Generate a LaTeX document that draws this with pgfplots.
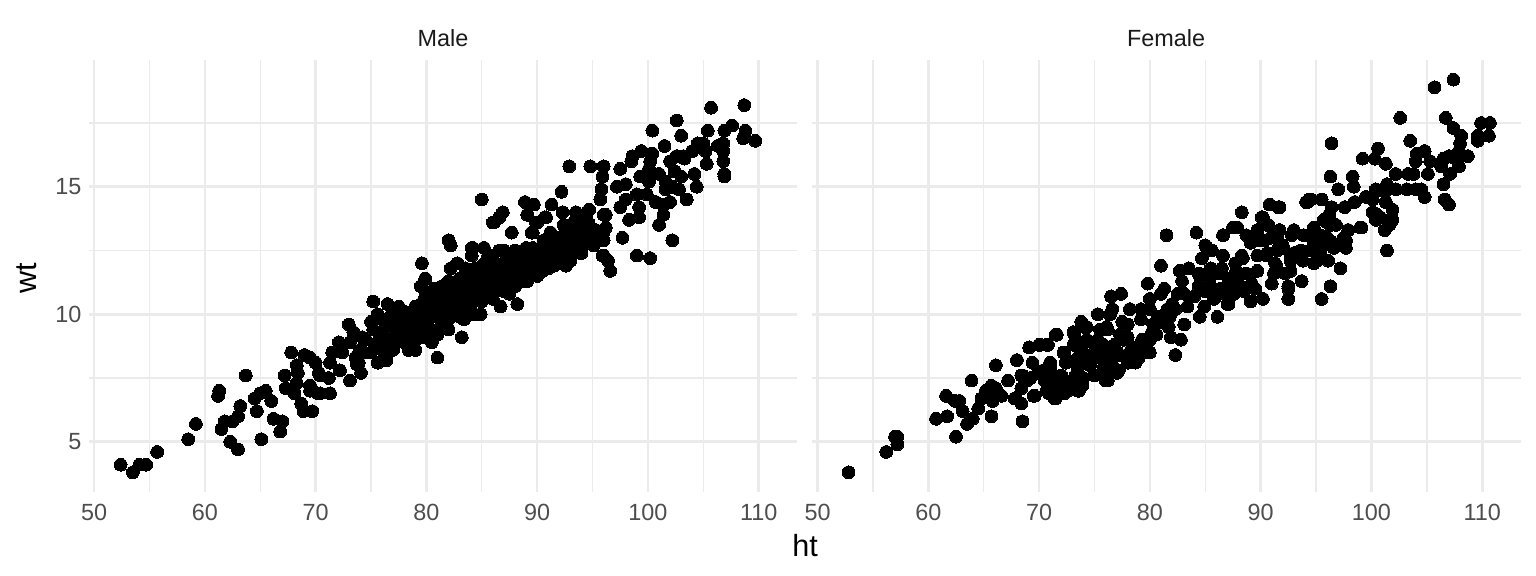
\documentclass[border=0pt]{standalone}
\usepackage{fontspec}
\setmainfont{Liberation Sans}
\usepackage{pgfplots}
\pgfplotsset{compat=1.18}
\definecolor{gridcol}{HTML}{EBEBEB}
\definecolor{ticktxt}{HTML}{4D4D4D}
\definecolor{striptxt}{HTML}{1A1A1A}
\pgfplotsset{panel/.style={
  scale only axis, width=354.5pt, height=216pt,
  anchor=south west,
  xmin=49.5, xmax=113.5, ymin=3.03, ymax=19.97,
  xtick={50,60,...,110}, minor xtick={55,65,...,105},
  ytick={5,10,15}, minor ytick={7.5,12.5,17.5},
  grid=both,
  major grid style={gridcol, line width=1.3pt},
  minor grid style={gridcol, line width=0.7pt},
  axis line style={draw=none},
  major tick length=0pt, minor tick length=0pt,
  /pgf/number format/assume math mode=true,
  tick label style={font=\fontsize{11.7}{12}\selectfont, text=ticktxt},
  xticklabel style={yshift=-2.5pt},
  clip=false,
}}
\pgfplotsset{dots/.style={only marks, mark=*, mark size=3.2pt, mark options={fill=black, draw=black, line width=0pt}}}
\begin{document}
\begin{tikzpicture}[x=1pt,y=1pt]
\useasboundingbox (0,0) rectangle (768,288);
\begin{axis}[panel, at={(44.25pt,42pt)}]
\addplot[dots] coordinates {
(52.4,4.1)(53.5,3.8)(54.1,4.1)(54.7,4.1)(55.7,4.6)(58.5,5.1)(59.2,5.7)(61.3,7.0)(61.2,6.8)(61.5,5.5)(61.8,5.8)(62.3,5.0)(63.0,4.7)(62.5,5.8)(63,6.0)(63.2,6.4)(63.7,7.6)(64.5,6.7)(65,6.9)(65.5,7.0)(64.7,6.2)(65.1,5.1)(66,6.6)(66.2,5.9)(67,5.8)(66.8,5.4)(67.8,8.5)(67.2,7.6)(67.3,7.1)(68.3,8.0)(68.4,7.7)(68.3,7.3)(68.1,6.9)(68.7,6.5)(68.9,6.2)(69.7,6.2)(69,8.4)(69.5,8.3)(70,8.1)(69.5,7.2)(69.5,7.0)(70.2,6.9)(70.3,7.7)
(71.3,8.1)(71.5,8.5)(72.1,8.9)(73,9.6)(73.4,9.3)(73.1,8.9)(72.4,8.5)(74.2,9.1)(75.2,10.5)(75.6,10.0)(75,9.7)(75.2,9.4)(76.5,10.4)(76.7,9.9)(77.5,10.3)(78,10.1)(79,10.3)
(70.4,7.6)(71.2,7.5)(72.2,7.8)(73.1,7.4)(74.1,7.7)(73.6,8.3)(74.3,8.5)(73.9,8.1)(75.6,8.1)(76.4,8.2)(76.9,8.6)(78.4,8.6)(79,8.6)(80.5,8.9)(81,8.3)(83.2,9.1)(82,9.4)(84.9,10)(84.3,10)(83.4,9.8)(86.7,10.3)(88.2,10.4)(87.5,10.8)(89.1,11.3)(88.5,11.3)
(82,12.9)(82.2,12.7)(79.6,12)(79.9,11.4)(79.5,11.1)(79.9,10.7)(80.7,11)(81.4,11.1)(82,11.3)(82.2,11.8)(82.8,12)(83.5,11.8)(84.1,12.6)(84.1,12.3)(85.2,12.6)(85.5,12.2)(84.4,11.8)(86.6,12.5)(87.7,13.2)(86.1,13.6)(89.5,13.2)
(105.7,18.1)(108.7,18.2)(102.6,17.6)(100.4,17.2)(103,17)(105.4,17.2)(106.9,17.2)(107.6,17.4)(108.8,17.2)(108.6,16.9)(109.7,16.8)(101.5,16.6)(104.5,16.7)(105,16.7)(105.2,16.4)(106.3,16.6)(106.8,16.7)(106.8,16.4)(106.8,16)(106.9,15.5)(106.9,15.4)(105.3,15.9)(104.2,15.5)(104.4,15)(104,16.4)(103.2,16.2)(102.6,16.2)(102,16)(102.4,15.6)(103,15.4)(103.3,16.1)(102.8,14.9)(103.5,14.5)(102.2,12.9)(101,13.5)
(100.4,16.3)(99.4,16.4)(98.6,16.2)(98.5,16)(100.2,16)(100.1,15.7)(101,15.5)(99.3,15.4)(100.1,15.2)(101.6,15.2)(101.6,14.9)(102.2,15)(97.5,15.7)(96,15.8)(94.8,15.8)(92.9,15.8)(95.9,15.4)(95.8,14.9)(95.7,14.5)(97.2,15)(98,15.1)(99,14.7)(98,14.5)(99.9,14.7)(100.7,14.4)(102,14.4)(101.4,14.3)(99.2,14.2)(97.5,14.2)(92.2,14.8)(89.7,14.3)(91.3,14.3)(90.7,13.8)(92.3,14)(93.5,14)(94.7,14.1)(96.2,13.9)(98.3,13.7)(99.2,13.8)(101.4,13.9)(97.7,13)(99,12.3)(100.2,12.2)(95.9,12.3)(96.4,12.1)(96.6,11.7)
(89.9,13.6)(91.2,13.2)(89.6,13.2)(92.4,13.5)(93.3,13.6)(94.2,13.8)(96.2,13.4)(96,12.9)(95.1,12.7)(93.9,12.4)(93,12.1)(92.6,11.9)(91.5,11.9)(90.5,11.7)
(85,14.5)(86.9,14)(86.6,13.8)(86,13.6)(88.9,14.4)(89.7,14.3)(89.1,13.9)(90.8,13.8)(90,13.6)(92.3,14)(84.2,12.6)(85.2,12.6)(86.7,12.5)(89,11.3)(90.5,11.7)(91.5,11.9)(92.6,11.9)(94,12.4)(96,12.3)
(90.2,12.5)(91.8,12.8)(93.3,13.3)(93.6,13.9)(94.5,14)(96,13.9)(96,13.2)(95.2,12.8)(94.3,13.2)(93.3,12.6)(91.2,13.2)(90.6,12.9)
(74,8.6)(74.5,9)(75,8.5)(75.4,8.8)(75.8,9.1)(76,8.6)(76.2,9.4)(76.6,9)(76.9,9.6)(77,8.9)(77.3,9.3)(77.6,9.7)(77.9,9.1)(78,9.5)(78.3,9.9)(78.5,9.2)(78.8,9.7)(79,9.3)(79.3,10)(79.6,9.6)(79.8,9.1)(80,9.8)(80.2,10.3)(80.4,9.4)(80.6,9.9)(80.9,10.5)(81.2,10.1)(81.4,9.6)(81.7,10.3)(82,10.8)(82.2,10)(82.5,10.5)(82.8,11)(83,10.2)(83.2,10.7)(83.5,11.2)(83.8,10.4)(84,10.9)(84.3,11.4)(84.6,10.6)(84.9,11.1)(85.2,11.6)(85.5,10.8)(85.8,11.3)(86,11.8)(86.3,11)(86.6,11.5)(86.9,12)(87.2,11.2)(87.5,11.7)(87.8,12.2)(88,11.4)(88.3,11.9)(88.6,12.4)(89,11.6)(89.3,12.1)(89.6,12.6)(90,11.8)(90.2,12.3)(90.6,12.8)(91,12)(91.3,12.5)(91.6,13)(92,12.2)(92.3,12.7)(92.6,13.2)(93,12.4)(93.3,12.9)(93.6,13.4)(94,12.6)(94.3,13.1)(94.6,13.6)(95,12.9)(95.3,13.3)
(70.4,6.9)(71.3,6.9)(73.7,8.05)
(80,9.3)(81,9.2)(81,10.5)(82,9.8)(83,9.9)(83,11)(84,10.2)(85,10.5)(85,11.9)(86,10.6)(86,12.3)(87,10.9)(87,11.6)(87,12.5)(88,11.1)(88,11.8)(88,12.5)(89,11.9)(89,12.6)(90,11.5)(90,12.1)(90.5,12.6)(91,11.8)(91,12.4)(92,12.5)(92,13)(93,12.7)(94,13)(77,8.6)(78,8.9)(79,9)(76,9.8)(77,10)(78,10)(79.5,10.4)(81,10.9)(82,11)(83,11.4)(84,11.6)(85,11.8)
};
\end{axis}
\begin{axis}[panel, at={(406pt,42pt)}, yticklabels={}]
\addplot[dots] coordinates {
(52.8,3.8)(56.2,4.6)(57.2,4.9)(57,5.2)(57.2,5.2)(60.7,5.9)(61.7,6.0)(62.5,5.2)(61.6,6.8)(62.4,6.6)(62.8,6.6)(63.1,6.2)(63.5,5.7)(64,5.9)(64.5,6.3)(63.9,7.4)(64.8,6.7)(65.2,7)(65.7,7.2)(66.1,7.1)(65.8,6.6)(66.6,6.8)(65.7,6)(66.1,8)(67.2,7.4)(68,8.2)(67.8,6.7)(68.4,6.5)(68.5,5.8)(68.4,7.1)(68.4,7.6)(68.9,7.4)(69.5,6.8)(69.1,8.7)(70,8.8)(70.8,8.8)(69.4,8.1)(69.9,7.7)(70.7,7)(71.4,6.7)(71,8)(70.7,7.4)(71.5,9.2)(71.3,7.6)(71.7,7.3)
(90.8,14.3)(91.6,14.2)(88.3,14)(90.1,13.8)(90.7,13.5)(89.7,13.3)(87.5,13.4)(87.9,13.4)(86.6,13.1)(84.2,13.2)(81.5,13.1)(88.7,13.1)(89.1,12.8)(90,12.9)(91.2,13)(91.5,12.5)(85,12.7)(85.6,12.5)(86.6,12.3)(86.5,11.8)(84.7,12.2)(85.5,11.8)(84.4,11.6)(83.5,11.8)(82.7,11.7)(82.9,11.3)(81,11.9)(79.8,11.2)(81.3,11)(81,10.8)(80,10.6)(82.5,10.8)(83.1,10.8)(84.4,11.1)(85.5,11.1)(86.4,11)(87.1,11.4)(88,11.5)(88.3,12.3)(87.7,12)(89.7,12.3)(89.7,11.7)(91.3,12)(91.2,11.6)(89.5,11)(88.5,10.9)(89.1,10.5)(90.2,10.6)(87.1,10.4)(87.6,10.8)(86.1,9.9)(84.5,9.9)(85.8,10.6)(84.9,10.3)(83.4,10.3)(82.3,10.2)(81.6,10.2)(83.1,9.6)(81.7,9.5)(81.9,9.1)(82.8,9)(82.3,8.4)(80,8.5)(80.2,9.3)(79.5,9)(78.2,10.2)(79.2,10.2)(80,10.2)(77.4,10.8)(76.5,10.7)(76.6,10.2)(76.4,10)(75.3,10)(77.5,9.7)(76.1,9.5)(75.5,9.4)(73.8,9.7)(74.3,9.5)(71.6,9.2)(73.1,9.3)(77.3,9.2)(78,9.6)(79.2,9.8)(80.7,9.9)(70.7,8.8)(70.1,8.8)(72.2,8.5)(73.1,8.8)(74.3,9)(75.8,8.8)(77,8.4)(78.5,8.7)(73.7,8.4)(75.2,8.4)(71,8.1)(72.4,8.1)(78.9,8.4)
(107.4,19.2)(105.7,18.9)(102.6,17.7)(106.7,17.7)(107.4,17.3)(108.1,17)(109.9,17.5)(110.7,17.5)(109.6,17)(109.6,16.8)(110.6,17)(96.4,16.7)(103.5,16.8)(100.6,16.5)(100.3,16.1)(99.2,16.1)(101.3,15.9)(104.8,16.4)(104.1,16.3)(104,16)(105.3,16)(108,16.7)(107.9,16.4)(108.7,16.2)(107,16.2)(106.5,16.1)(107.6,16.1)(106.3,15.8)(107.9,15.8)(107.1,15.5)(102.2,15.5)(103.3,15.5)(103.8,15.5)(105.1,15.5)(98.3,15.4)(96.3,15.4)(98.4,15)(97,14.9)(106.5,15.1)(101.4,15.1)(100.4,14.9)(102.2,14.9)(103.2,14.9)(104,14.9)(104.5,14.9)(104.8,14.6)(106.6,14.5)(107,14.3)(101.2,14.8)(95.5,14.5)(94.4,14.5)(94.1,14.4)(90.8,14.3)(91.7,14.2)(96.4,14.2)(99.5,14.6)(100.1,14.5)(98.5,14.4)(97.6,14.2)(101.3,14.4)(101.9,14.1)(100.1,14)(100.5,13.9)(100.8,13.8)(100.4,13.7)(101.9,13.7)(101.6,13.5)(101.2,13.3)(99.1,13.4)(97.9,13.3)(101.4,12.5)(96.2,13.9)(95.7,13.7)(96.3,13.5)(94.8,13.4)(93,13.3)(91.7,13.3)(90.6,13.5)(90.2,13.8)(93.9,13.1)(96,13)(97.5,13)(95.4,13.1)(91.5,13)(92.8,13.1)(94.8,12.8)(97.5,12.7)(92,12.7)(90.3,12.9)(95.4,12.6)(96.6,12.6)
(70.5,7.4)(71,7.9)(71.5,7.2)(72,7.6)(72.3,6.9)(72.5,8.2)(73,7.4)(73.5,7.9)(73.5,7)(74,7.5)(74.3,8.4)(74.6,8)(75,7.6)(75,8.8)(75.4,8.3)(75.8,7.9)(76,8.6)(76.2,7.4)(76.5,8.1)(76.8,8.8)(77,7.7)(77.3,8.4)(77.6,9)(78,8.1)(78.3,8.6)(79,8.3)(79.3,9)(79.6,8.6)(80,9)(80.3,9.6)(80.6,9.2)(81,9.7)(81.4,10)(81.8,9.9)(82,10.4)
(84,10.7)(84.5,11.5)(85,10.9)(85.4,11.4)(85.9,10.9)(86.2,11.6)(86.8,10.8)(87.3,11.2)(87.8,11.7)(88.2,11.1)(88.7,11.6)(89.2,11.2)(91,11.2)(92.2,11.6)(92.5,11)
(95.5,10.6)(96.3,11.1)(97.2,11.8)(94.8,12)(93.8,12.1)(92.5,11.1)(92.5,10.6)(96.5,12.8)(95.4,12.5)(97.7,12.9)(94.5,13.1)(96.8,13.5)(91.4,11.9)(92.7,12.1)(93.6,12.5)(91.8,12.7)(90.5,12.3)
(94.2,14.4)(94.5,14.5)(95.5,14.5)(96.2,13.9)(96,13.6)(97.6,14.2)(98.5,14.4)(99,13.4)(97.9,13.3)(97.5,12.9)(97.7,12.6)(96,13)(94.5,12.5)(95.1,12.1)(96.1,12.1)(93.7,11.3)(90.2,10.6)(87.3,11.4)(88.4,12.2)(92.7,11.7)(92.7,12.2)(92,12.6)(93,12.4)(90.6,12.4)(89.8,12.9)(90.9,13)(87,10.4)(85.6,10.9)
(68,8.2)(67.9,6.7)(68.5,7.6)(69.2,7.5)(69.6,6.8)(70.9,6.9)(71.5,6.7)(71,8.1)(70.4,7.8)(72.4,8.1)(72.3,8.5)(72.6,7)(73.6,7)(73.9,7.2)(73.3,7.6)(71.8,7.3)(73.2,9.2)(74.1,9.5)(76,7.4)(77.2,7.8)(75.9,7.7)(76.2,9.4)(73.8,8.8)(74.4,8.2)(73.5,8.3)(75.3,9)(76.2,8.4)(77.1,8.5)(78.7,8.1)(78,9.1)(78.9,8.7)(79.8,8.5)
};
\end{axis}
\node[font=\fontsize{11.7}{12}\selectfont, text=striptxt] at (221.5,269) {Male};
\node[font=\fontsize{11.7}{12}\selectfont, text=striptxt] at (583,269) {Female};
\node[font=\fontsize{15.3}{16}\selectfont] at (402.5,15) {ht};
\node[font=\fontsize{15.3}{16}\selectfont, rotate=90] at (13.5,149) {wt};
\end{tikzpicture}
\end{document}
